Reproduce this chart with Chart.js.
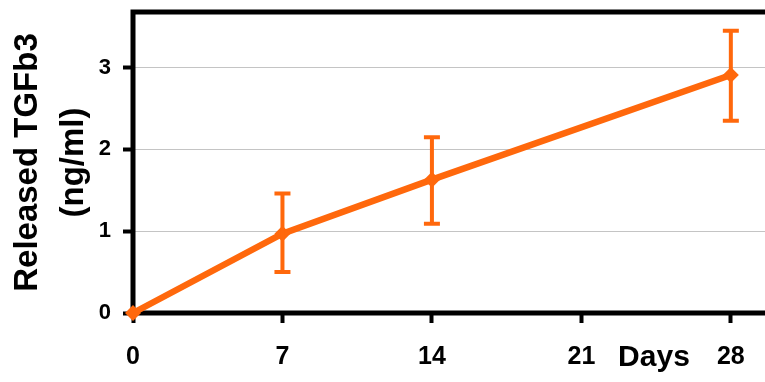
<!DOCTYPE html>
<html>
<head>
<meta charset="utf-8">
<script src="https://cdn.jsdelivr.net/npm/chart.js@4"></script>
<style>
  html, body { margin: 0; padding: 0; background: #fff; }
  #chart { display: block; }
</style>
</head>
<body>
<canvas id="chart" width="765" height="382"></canvas>
<script>
// ---------- data ----------
const days = [0, 7, 14, 28];
const released = [0, 0.97, 1.63, 2.91];
const errUpper = [0, 1.46, 2.15, 3.45];
const errLower = [0, 0.50, 1.09, 2.35];
const xTicks = [0, 7, 14, 21, 28];
const yTicks = [0, 1, 2, 3];

const ORANGE = "rgb(255,104,12)";
const FONT = "'Liberation Sans', Arial, sans-serif";

// ---------- plugins ----------
const frame = {
  id: "frame",
  beforeDatasetsDraw(chart) {
    const { ctx, chartArea: a } = chart;
    ctx.save();
    ctx.strokeStyle = "#000";
    ctx.lineWidth = 5;
    ctx.lineCap = "square";
    ctx.beginPath();
    ctx.moveTo(chart.width + 5, a.top);
    ctx.lineTo(a.left, a.top);
    ctx.lineTo(a.left, a.bottom);
    ctx.lineTo(chart.width + 5, a.bottom);
    ctx.stroke();
    ctx.restore();
  },
};

const errorBars = {
  id: "errorBars",
  afterDatasetsDraw(chart) {
    const { ctx, scales: { x, y } } = chart;
    ctx.save();
    ctx.strokeStyle = ORANGE;
    ctx.lineWidth = 4;
    days.forEach((d, i) => {
      if (errUpper[i] === errLower[i]) return;
      const px = x.getPixelForValue(d);
      const top = y.getPixelForValue(errUpper[i]);
      const bot = y.getPixelForValue(errLower[i]);
      ctx.beginPath();
      ctx.moveTo(px, top);
      ctx.lineTo(px, bot);
      ctx.moveTo(px - 8, top);
      ctx.lineTo(px + 8, top);
      ctx.moveTo(px - 8, bot);
      ctx.lineTo(px + 8, bot);
      ctx.stroke();
    });
    ctx.restore();
  },
};

const daysLabel = {
  id: "daysLabel",
  afterDraw(chart) {
    const { ctx, scales: { x } } = chart;
    ctx.save();
    ctx.fillStyle = "#000";
    ctx.font = "bold 30px " + FONT;
    ctx.textAlign = "center";
    ctx.textBaseline = "alphabetic";
    ctx.fillText("Days", x.getPixelForValue(24.4), 366);
    ctx.restore();
  },
};

// ---------- chart ----------
new Chart(document.getElementById("chart").getContext("2d"), {
  type: "line",
  data: {
    datasets: [
      {
        data: days.map((d, i) => ({ x: d, y: released[i] })),
        borderColor: ORANGE,
        backgroundColor: ORANGE,
        borderWidth: 6.5,
        pointStyle: "rectRot",
        pointRadius: 8,
        pointBorderWidth: 0,
        tension: 0,
        clip: false,
      },
    ],
  },
  options: {
    responsive: false,
    animation: false,
    layout: { padding: 0, autoPadding: false },
    plugins: { legend: { display: false }, tooltip: { enabled: false } },
    scales: {
      x: {
        type: "linear",
        min: 0,
        max: 29.6,
        afterFit: (s) => {
          s.height = 69;
          s.paddingLeft = 0;
          s.paddingRight = 0;
        },
        afterBuildTicks: (s) => { s.ticks = xTicks.map((v) => ({ value: v })); },
        ticks: {
          padding: 19,
          color: "#000",
          font: { family: FONT, size: 25, weight: "bold" },
          maxRotation: 0,
        },
        grid: {
          drawOnChartArea: false,
          tickLength: 10,
          tickColor: "#000",
          tickWidth: 4,
        },
        border: { display: false },
      },
      y: {
        min: 0,
        max: 3.68,
        afterFit: (s) => {
          s.width = 133;
          s.paddingTop = 12;
          s.paddingBottom = 0;
        },
        afterBuildTicks: (s) => { s.ticks = yTicks.map((v) => ({ value: v })); },
        ticks: {
          padding: 12,
          color: "#000",
          font: { family: FONT, size: 22, weight: "bold" },
        },
        grid: {
          color: (c) => (c.tick && c.tick.value > 0 ? "#c4c4c4" : "rgba(0,0,0,0)"),
          lineWidth: 1,
          tickLength: 10,
          tickColor: "#000",
          tickWidth: 4,
        },
        border: { display: false },
        title: {
          display: true,
          text: ["Released TGFb3", "(ng/ml)"],
          color: "#000",
          font: { family: FONT, size: 33, weight: "bold", lineHeight: 1.4 },
          padding: { top: 5, bottom: 0 },
        },
      },
    },
  },
  plugins: [frame, errorBars, daysLabel],
});
</script>
</body>
</html>
